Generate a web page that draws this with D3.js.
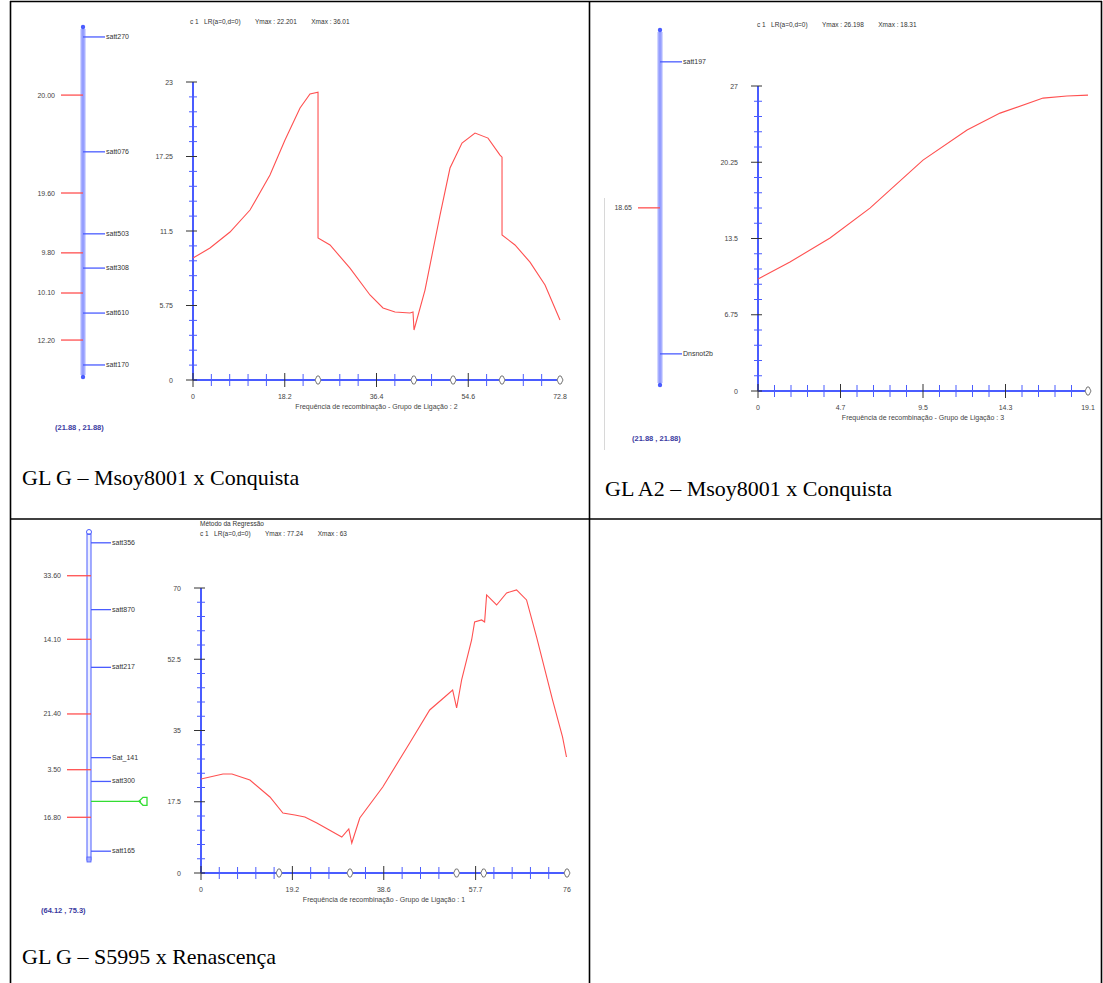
<!DOCTYPE html>
<html><head><meta charset="utf-8">
<script src="https://cdn.jsdelivr.net/npm/d3@7"></script>
<style>body{margin:0;background:#fff}svg{display:block}</style>
</head><body>
<svg id="c" width="1103" height="983"></svg>
<script>
// ---------- DATA ----------
// Panel 1: GL G – Msoy8001 x Conquista
const p1CurveX = [0,3.37,7.34,11.31,15.27,18.25,21.23,23.21,24.8,24.8,27.18,31.14,35.11,37.69,40.07,43.05,43.64,43.84,46.02,49.0,50.98,53.36,55.94,58.52,60.9,61.3,61.3,63.87,66.85,69.83,72.8];
const p1CurveY = [9.41,10.19,11.42,13.12,15.82,18.52,20.99,22.07,22.22,10.96,10.42,8.64,6.56,5.56,5.25,5.17,5.25,3.86,6.94,12.73,16.36,18.29,19.06,18.67,17.36,17.2,11.19,10.42,9.1,7.33,4.63];
const p1XTicks = [0,18.2,36.4,54.6,72.8];
const p1XTickLabels = ["0","18.2","36.4","54.6","72.8"];
const p1YTicks = [0,5.75,11.5,17.25,23];
const p1YTickLabels = ["0","5.75","11.5","17.25","23"];
const p1AxisMarkers = [24.8,43.8,51.6,61.3,72.8];
const p1Markers = ["satt270","satt076","satt503","satt308","satt610","satt170"];
const p1MarkerPos = [2.3,35.5,59.2,69.1,82.1,97.1];
const p1Intervals = ["20.00","19.60","9.80","10.10","12.20"];
const p1IntervalPos = [19.1,47.4,64.7,76.3,89.9];

// Panel 2: GL A2 – Msoy8001 x Conquista
const p2CurveX = [0,1.85,4.17,6.48,9.55,12.10,14.01,16.5,17.88,19.1];
const p2CurveY = [9.91,11.42,13.54,16.19,20.44,23.10,24.60,25.93,26.11,26.19];
const p2XTicks = [0,4.775,9.55,14.325,19.1];
const p2XTickLabels = ["0","4.7","9.5","14.3","19.1"];
const p2YTicks = [0,6.75,13.5,20.25,27];
const p2YTickLabels = ["0","6.75","13.5","20.25","27"];
const p2AxisMarkers = [19.1];
const p2Markers = ["satt197","Dnsnot2b"];
const p2MarkerPos = [8.5,91.7];
const p2Intervals = ["18.65"];
const p2IntervalPos = [50.1];

// Panel 3: GL G – S5995 x Renascença
const p3CurveX = [0,4.62,6.5,10.28,14.48,17.21,19.72,21.82,24.34,29.58,31.05,31.68,33.36,38.19,43.85,48.05,51.2,52.87,53.71,54.76,56.86,57.49,58.96,59.59,60.01,62.11,64.21,66.3,68.4,70.5,73.86,75.96,76.79];
const p3CurveY = [23.09,24.32,24.32,22.84,18.67,14.74,14.25,13.76,12.28,8.84,10.81,7.37,13.51,21.13,31.93,40.04,43.23,44.95,40.53,47.41,57.23,61.66,62.15,61.66,68.29,65.83,68.78,69.52,67.06,57.97,42.5,33.41,28.49];
const p3XTicks = [0,19.2,38.4,57.7,76.9];
const p3XTickLabels = ["0","19.2","38.6","57.7","76"];
const p3YTicks = [0,17.5,35,52.5,70];
const p3YTickLabels = ["0","17.5","35","52.5","70"];
const p3AxisMarkers = [16.4,31.3,53.7,59.4,76.9];
const p3Markers = ["satt356","satt870","satt217","Sat_141","satt300","satt165"];
const p3MarkerPos = [2.7,23.2,40.9,68.6,75.9,97.3];
const p3Intervals = ["33.60","14.10","21.40","3.50","16.80"];
const p3IntervalPos = [12.8,32.3,55.2,72.3,86.9];
const p3QtlPos = [82.0];

const captions = ["GL G – Msoy8001 x Conquista","GL A2 – Msoy8001 x Conquista","GL G – S5995 x Renascença"];

// ---------- DRAW ----------
const svg = d3.select("#c");
const BLUE = "#4a5cff", LBLUE = "#a8b0ff", RED = "#ff5050";
const small = "7px";

// table
const T = svg.append("g").attr("stroke","#000").attr("stroke-width",1.6).attr("fill","none");
T.append("line").attr("x1",10).attr("x2",1102).attr("y1",1.5).attr("y2",1.5);
T.append("line").attr("x1",10.5).attr("x2",10.5).attr("y1",1).attr("y2",983);
T.append("line").attr("x1",1101.5).attr("x2",1101.5).attr("y1",1).attr("y2",983);
T.append("line").attr("x1",589.5).attr("x2",589.5).attr("y1",1).attr("y2",983);
T.append("line").attr("x1",10).attr("x2",1102).attr("y1",519).attr("y2",519);

// light frame of embedded picture in panel 2
svg.append("line").attr("x1",604.5).attr("x2",604.5).attr("y1",198).attr("y2",450).attr("stroke","#d8d8d8");

function chromosome(cfg){
  const g = svg.append("g");
  const s = d3.scaleLinear().domain([0,100]).range([cfg.top,cfg.bottom]);
  if(cfg.double){
    g.append("rect").attr("x",cfg.x-2).attr("y",cfg.top).attr("width",4).attr("height",cfg.bottom-cfg.top)
      .attr("fill","#eef0ff").attr("stroke",BLUE).attr("stroke-width",1);
    g.append("circle").attr("cx",cfg.x).attr("cy",cfg.top-2).attr("r",2.5).attr("fill","none").attr("stroke",BLUE);
    g.append("rect").attr("x",cfg.x-2).attr("y",cfg.bottom-3).attr("width",4).attr("height",5).attr("fill",LBLUE).attr("stroke",BLUE).attr("stroke-width",0.8);
  } else {
    g.append("line").attr("x1",cfg.x).attr("x2",cfg.x).attr("y1",cfg.top).attr("y2",cfg.bottom)
      .attr("stroke",LBLUE).attr("stroke-width",5);
    g.append("line").attr("x1",cfg.x).attr("x2",cfg.x).attr("y1",cfg.top).attr("y2",cfg.bottom)
      .attr("stroke","#8f98ff").attr("stroke-width",1.5);
    g.append("circle").attr("cx",cfg.x).attr("cy",cfg.top-2).attr("r",2.2).attr("fill",BLUE);
    g.append("circle").attr("cx",cfg.x).attr("cy",cfg.bottom+2).attr("r",2.2).attr("fill",BLUE);
  }
  const off = cfg.double?2:0;
  cfg.intervals.forEach((t,i)=>{
    const y = s(cfg.intervalPos[i]);
    g.append("line").attr("x1",cfg.x-22).attr("x2",cfg.x+off).attr("y1",y).attr("y2",y).attr("stroke",RED).attr("stroke-width",1.3);
    g.append("text").attr("x",cfg.x-28).attr("y",y+2.5).attr("text-anchor","end").attr("font-size",small)
      .attr("font-family","Liberation Sans, Arial").attr("fill","#444").text(t);
  });
  cfg.markers.forEach((t,i)=>{
    const y = s(cfg.markerPos[i]);
    g.append("line").attr("x1",cfg.x+off).attr("x2",cfg.x+22).attr("y1",y).attr("y2",y).attr("stroke",BLUE).attr("stroke-width",1.3);
    g.append("text").attr("x",cfg.x+23).attr("y",y+2).attr("font-size",small)
      .attr("font-family","Liberation Sans, Arial").attr("fill","#333").text(t);
  });
  (cfg.qtl||[]).forEach(p=>{
    const y = s(p);
    g.append("line").attr("x1",cfg.x+off).attr("x2",cfg.x+52).attr("y1",y).attr("y2",y).attr("stroke","#33dd33").attr("stroke-width",1.3);
    g.append("path").attr("d",`M${cfg.x+50},${y} l4,-4 h4 v8 h-4 z`).attr("fill","none").attr("stroke","#33dd33").attr("stroke-width",1.3);
  });
  g.append("text").attr("x",cfg.coordX).attr("y",cfg.coordY).attr("font-size","7.5px").attr("font-weight","bold")
    .attr("font-family","Liberation Sans, Arial").attr("fill","#3a3aa0").text(cfg.coord);
}

function plot(cfg){
  const g = svg.append("g");
  const x = d3.scaleLinear().domain([cfg.xTicks[0],cfg.xTicks[cfg.xTicks.length-1]]).range([cfg.x0,cfg.x1]);
  const y = d3.scaleLinear().domain([cfg.yTicks[0],cfg.yTicks[cfg.yTicks.length-1]]).range([cfg.y0,cfg.y1]);
  g.append("line").attr("x1",cfg.x0).attr("x2",cfg.x1).attr("y1",cfg.y0).attr("y2",cfg.y0).attr("stroke",BLUE).attr("stroke-width",2);
  g.append("line").attr("x1",cfg.x0).attr("x2",cfg.x0).attr("y1",cfg.y0).attr("y2",cfg.y1).attr("stroke",BLUE).attr("stroke-width",2);
  const minorX=[], minorY=[];
  for(let i=0;i<cfg.xTicks.length-1;i++){const a=cfg.xTicks[i],b=cfg.xTicks[i+1];for(let k=1;k<5;k++)minorX.push(a+(b-a)*k/5);}
  for(let i=0;i<cfg.yTicks.length-1;i++){const a=cfg.yTicks[i],b=cfg.yTicks[i+1];for(let k=1;k<5;k++)minorY.push(a+(b-a)*k/5);}
  const near = v => cfg.axisMarkers.some(m=>Math.abs(x(m)-x(v))<4);
  minorX.filter(v=>!near(v)).forEach(v=>g.append("line").attr("x1",x(v)).attr("x2",x(v)).attr("y1",cfg.y0-6).attr("y2",cfg.y0+6).attr("stroke",BLUE).attr("stroke-width",1));
  minorY.forEach(v=>g.append("line").attr("x1",cfg.x0-4).attr("x2",cfg.x0+4).attr("y1",y(v)).attr("y2",y(v)).attr("stroke",BLUE).attr("stroke-width",1));
  cfg.xTicks.forEach((v,i)=>{
    if(!(i>0 && near(v))) g.append("line").attr("x1",x(v)).attr("x2",x(v)).attr("y1",cfg.y0-7).attr("y2",cfg.y0+7).attr("stroke","#333").attr("stroke-width",1);
    g.append("text").attr("x",x(v)).attr("y",cfg.y0+19).attr("text-anchor","middle").attr("font-size",small)
      .attr("font-family","Liberation Sans, Arial").attr("fill","#444").text(cfg.xTickLabels[i]);
  });
  cfg.yTicks.forEach((v,i)=>{
    g.append("line").attr("x1",cfg.x0-7).attr("x2",cfg.x0+4).attr("y1",y(v)).attr("y2",y(v)).attr("stroke","#333").attr("stroke-width",1);
    g.append("text").attr("x",cfg.x0-20).attr("y",y(v)+2.5).attr("text-anchor","end").attr("font-size",small)
      .attr("font-family","Liberation Sans, Arial").attr("fill","#444").text(cfg.yTickLabels[i]);
  });
  cfg.axisMarkers.forEach(m=>{
    g.append("path").attr("d",`M${x(m)-3},${cfg.y0} l2,-4 h2 l2,4 l-2,4 h-2 z`).attr("fill","#fff").attr("stroke","#777").attr("stroke-width",1);
  });
  const pts = cfg.cx.map((v,i)=>[x(v),y(cfg.cy[i])]);
  g.append("path").attr("d",d3.line()(pts)).attr("fill","none").attr("stroke",RED).attr("stroke-width",1.1);
  g.append("text").attr("x",(cfg.x0+cfg.x1)/2).attr("y",cfg.y0+29).attr("text-anchor","middle").attr("font-size",small)
    .attr("font-family","Liberation Sans, Arial").attr("fill","#444").text(cfg.xLabel);
  cfg.header.forEach(h=>{
    g.append("text").attr("x",h[0]).attr("y",h[1]).attr("font-size","6.5px")
      .attr("font-family","Liberation Sans, Arial").attr("fill","#333").attr("xml:space","preserve").text(h[2]);
  });
}

chromosome({x:83,top:29,bottom:375,markers:p1Markers,markerPos:p1MarkerPos,intervals:p1Intervals,intervalPos:p1IntervalPos,coord:"(21.88 , 21.88)",coordX:55,coordY:430});
plot({x0:193,x1:560,y0:380,y1:82,xTicks:p1XTicks,xTickLabels:p1XTickLabels,yTicks:p1YTicks,yTickLabels:p1YTickLabels,
  axisMarkers:p1AxisMarkers,cx:p1CurveX,cy:p1CurveY,xLabel:"Frequência de recombinação - Grupo de Ligação : 2",
  header:[[190,24,"c 1   LR(a=0,d=0)        Ymax : 22.201        Xmax : 36.01"]]});

chromosome({x:660,top:32,bottom:383,markers:p2Markers,markerPos:p2MarkerPos,intervals:p2Intervals,intervalPos:p2IntervalPos,coord:"(21.88 , 21.88)",coordX:632,coordY:441});
plot({x0:758,x1:1088,y0:391,y1:86,xTicks:p2XTicks,xTickLabels:p2XTickLabels,yTicks:p2YTicks,yTickLabels:p2YTickLabels,
  axisMarkers:p2AxisMarkers,cx:p2CurveX,cy:p2CurveY,xLabel:"Frequência de recombinação - Grupo de Ligação : 3",
  header:[[757,27,"c 1   LR(a=0,d=0)        Ymax : 26.198        Xmax : 18.31"]]});

chromosome({x:89,top:534,bottom:860,double:true,markers:p3Markers,markerPos:p3MarkerPos,intervals:p3Intervals,intervalPos:p3IntervalPos,qtl:p3QtlPos,coord:"(64.12 , 75.3)",coordX:41,coordY:913});
plot({x0:201,x1:567,y0:873,y1:588,xTicks:p3XTicks,xTickLabels:p3XTickLabels,yTicks:p3YTicks,yTickLabels:p3YTickLabels,
  axisMarkers:p3AxisMarkers,cx:p3CurveX,cy:p3CurveY,xLabel:"Frequência de recombinação - Grupo de Ligação : 1",
  header:[[200,526,"Método da Regressão"],[200,536,"c 1   LR(a=0,d=0)        Ymax : 77.24        Xmax : 63"]]});

const capPos = [[22,485],[605,496],[22,964]];
captions.forEach((c,i)=>svg.append("text").attr("x",capPos[i][0]).attr("y",capPos[i][1])
  .attr("font-family","Liberation Serif, Times New Roman, serif").attr("font-size","22px").attr("fill","#000").text(c));
</script>
</body></html>
